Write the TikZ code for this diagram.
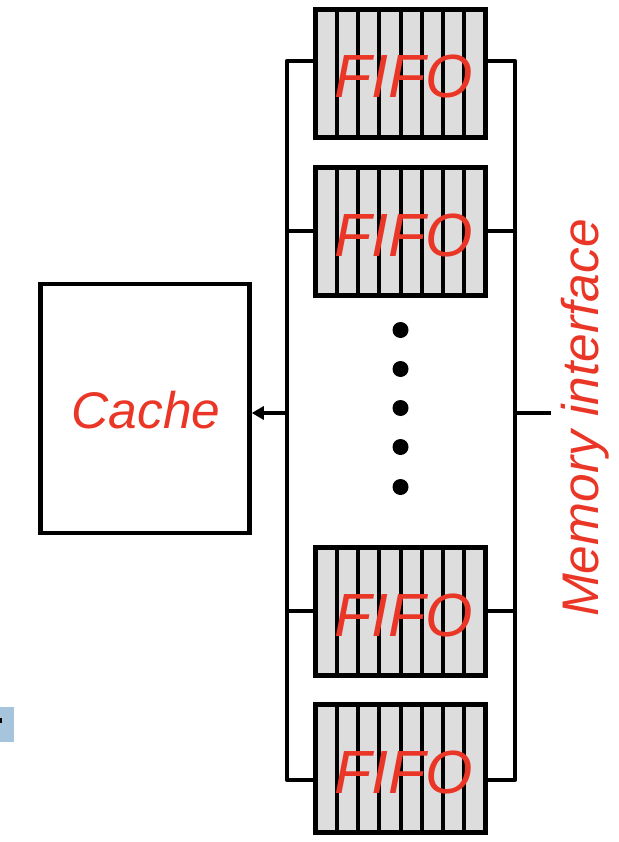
\documentclass[tikz,border=0pt]{standalone}
\usepackage{fontspec}
\setmainfont{Liberation Sans}
\usetikzlibrary{arrows.meta,calc}
\definecolor{lblred}{RGB}{234,54,38}
\definecolor{fifogray}{RGB}{221,221,221}
\definecolor{tagblue}{RGB}{166,196,220}
\tikzset{
  fifobox/.style={draw=black, line width=4.6pt, fill=fifogray, minimum width=170pt, minimum height=128.4pt, inner sep=0pt, outer sep=0pt, anchor=center},
  cachebox/.style={draw=black, line width=4.5pt, fill=white, minimum width=209pt, minimum height=249pt, inner sep=0pt},
  divider/.style={line width=4pt},
  bus/.style={line width=4.4pt, line join=round},
  fifotext/.style={text=lblred, font=\fontsize{61}{61}\selectfont\itshape, anchor=base, inner sep=0pt},
  bigtext/.style={text=lblred, font=\fontsize{51.5}{51.5}\selectfont\itshape, anchor=base, inner sep=0pt},
  dotmark/.style={circle, fill=black, minimum size=16pt, inner sep=0pt},
}
\begin{document}
\begin{tikzpicture}[x=1pt,y=-1pt]
\useasboundingbox (0,0) rectangle (618,842);
% tag at bottom left
\fill[tagblue] (0,707) rectangle (14,742);
\fill[black] (0,718) rectangle (2,723);
% FIFOs
\foreach \n/\cy in {1/73.5,2/231.5,3/611.5,4/768.5}{
  \node[fifobox] (f\n) at (400.5,\cy) {};
  \foreach \k in {1,...,7}{
    \draw[divider] ($(f\n.north west)+(21.25*\k,0)$) -- ($(f\n.south west)+(21.25*\k,0)$);
  }
  \draw[line width=4.6pt] (f\n.north west) rectangle (f\n.south east);
  \node[fifotext] (t\n) at ($(f\n.center)+(3,24.5)$) {FIFO};
}
% cache
\node[cachebox] (cache) at (145,408.5) {};
\node[bigtext] (ctext) at (146,428) {Cache};
% bus coordinates
\coordinate (L1) at (287,61);
\coordinate (L2) at (287,231);
\coordinate (L3) at (287,611);
\coordinate (L4) at (287,780);
\coordinate (Lm) at (287,413);
\coordinate (R1) at (515,61);
\coordinate (R2) at (515,231);
\coordinate (R3) at (515,611);
\coordinate (R4) at (515,780);
\coordinate (Rm) at (515,413);
\coordinate (stub) at (551,413);
% left bus
\draw[bus] (f1.west |- L1) -- (L1) -- (L4) -- (f4.west |- L4);
\draw[bus] (L2) -- (f2.west |- L2);
\draw[bus] (L3) -- (f3.west |- L3);
\draw[bus,-{Triangle[length=12pt,width=13pt]}] (Lm) -- (cache.east |- Lm);
% right bus
\draw[bus] (f1.east |- R1) -- (R1) -- (R4) -- (f4.east |- R4);
\draw[bus] (R2) -- (f2.east |- R2);
\draw[bus] (R3) -- (f3.east |- R3);
\draw[bus] (Rm) -- (stub);
% dots
\foreach \i/\y in {1/330,2/369,3/408,4/447,5/487}{
  \node[dotmark] (d\i) at (400.5,\y) {};
}
% memory interface label
\node[bigtext, rotate=90] (mem) at (598,418) {Memory interface};
\end{tikzpicture}
\end{document}
